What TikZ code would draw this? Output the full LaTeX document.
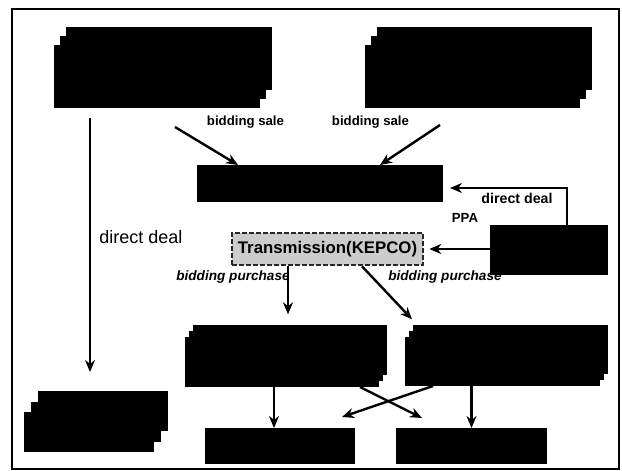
\documentclass[tikz,border=0pt]{standalone}
\usepackage{fontspec}
\setmainfont{Liberation Sans}
\usepackage{tikz}
\usetikzlibrary{calc, positioning, shapes, shadows, arrows.meta}

\begin{document}
\begin{tikzpicture}[x=0.5pt, y=-0.5pt,
  blk/.style={fill=black, draw=none, inner sep=0pt, outer sep=0pt},
  stk/.style={blk, double copy shadow={shadow xshift=#1, shadow yshift=1.5*#1, fill=black, draw=none}},
  arr/.style={line width=1.2pt, -{Stealth[length=6pt, width=5pt]}},
  lbl/.style={font=\bfseries\fontsize{6.6}{7}\selectfont, inner sep=0pt},
  lbli/.style={font=\bfseries\itshape\fontsize{6.8}{7}\selectfont, inner sep=0pt}]
\useasboundingbox (0,0) rectangle (622,471);
\draw[line width=0.6pt] (12,9) rectangle (619,469);% frame
% stacked boxes
\node[stk=3pt, minimum width=103pt, minimum height=31.5pt] (gena) at (157,76.5) {};
\node[stk=3pt, minimum width=107.5pt, minimum height=31.5pt] (genb) at (472.5,76.5) {};
\node[blk, minimum width=123pt, minimum height=18.5pt] (pool) at (320,183.5) {};
\node[blk, minimum width=59pt, minimum height=25pt] (ppa) at (549,250) {};
\node[draw=black!85, fill=black!20, dashed, line width=1.3pt, dash pattern=on 2.5pt off 1pt,
  minimum width=95.5pt, minimum height=16pt, inner sep=0pt,
  font=\bfseries\fontsize{8.4}{9}\selectfont] (kepco) at (327.5,249) {Transmission(KEPCO)};
\node[stk=2pt, minimum width=97pt, minimum height=25pt] (dista) at (282,362) {};
\node[stk=2pt, minimum width=97.5pt, minimum height=24.5pt] (distb) at (502.5,361.5) {};
\node[stk=3.5pt, minimum width=65pt, minimum height=20pt] (large) at (89,432) {};
\node[blk, minimum width=75pt, minimum height=18pt] (usera) at (280,446) {};
\node[blk, minimum width=75.5pt, minimum height=18pt] (userb) at (471.5,446) {};
% labels
\node[lbl] (bsa) at (245.5,122) {bidding sale};
\node[lbl] (bsb) at (370.5,122) {bidding sale};
\node[font=\fontsize{9}{10}\selectfont, inner sep=0pt] (dda) at (141,237) {direct deal};
\node[lbl, font=\bfseries\fontsize{7.1}{8}\selectfont] (ddb) at (517,198) {direct deal};
\node[lbl] (ppal) at (465,218) {PPA};
\node[lbli] (bpa) at (233,277) {bidding purchase};
\node[lbli] (bpb) at (445,277) {bidding purchase};
% arrows
\coordinate (sa) at (175,127);
\coordinate (sb) at (440,125);
\coordinate (dds) at (90,118);
\coordinate (dde) at (90,372);
\draw[arr] (sa) -- ([xshift=20.5pt]pool.north west);
\draw[arr] (sb) -- ([xshift=-31.5pt]pool.north east);
\draw[arr] ([xshift=9pt]ppa.north) |- ([xshift=3.5pt, yshift=-2.25pt]pool.east);
\draw[arr] (kepco.east -| ppa.west) -- ([xshift=2.5pt]kepco.east);
\draw[arr] (dds) -- (dde);
\draw[arr] ([xshift=-19.75pt]kepco.south) -- ++(0,48);
\draw[arr] ([xshift=17.25pt]kepco.south) -- ++(50,53);
\draw[arr] ([xshift=-4pt]dista.south) -- ([xshift=-3pt]usera.north);
\draw[arr] (userb.north |- distb.south) -- (userb.north);
\draw[arr] ([xshift=39pt]dista.south) -- ++(62,31);
\draw[arr] ([xshift=-34.75pt]distb.south) -- ++(-91,31);
\end{tikzpicture}
\end{document}
